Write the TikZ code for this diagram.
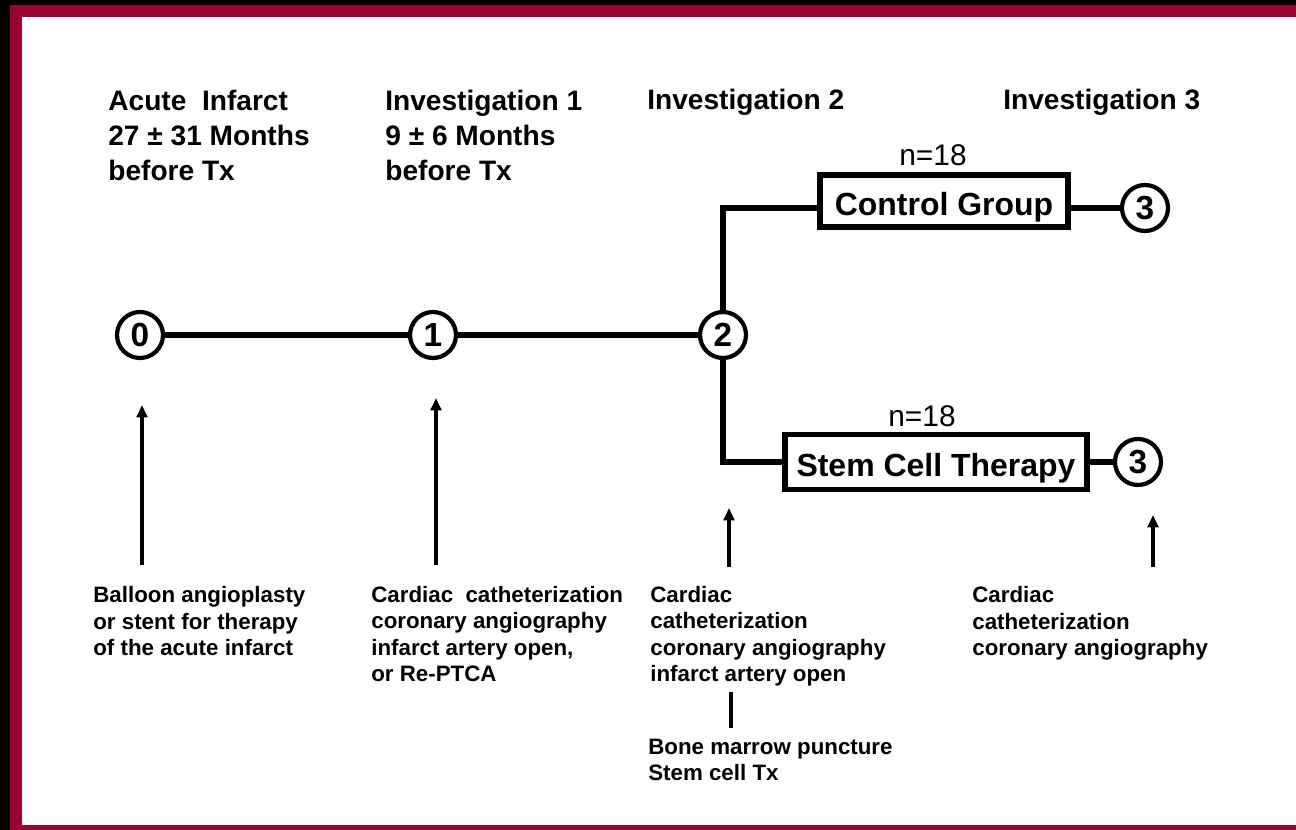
\documentclass[tikz,border=0pt]{standalone}
\usepackage{fontspec}
\setmainfont{Liberation Sans}
\usetikzlibrary{arrows.meta}

\definecolor{framered}{RGB}{153,0,51}

\begin{document}
\begin{tikzpicture}[x=0.02cm,y=-0.02cm]
    \tikzstyle{stage}=[circle,draw,line width=2.4pt,minimum size=0.92cm,inner sep=0pt,font=\fontsize{19}{22}\selectfont\bfseries]
    \tikzstyle{group}=[rectangle,draw,line width=3.4pt,inner sep=0pt,text height=16.5pt,text depth=0pt,font=\fontsize{18.2}{22}\selectfont\bfseries]
    \tikzstyle{head}=[anchor=base west,align=left,inner sep=0pt,font=\fontsize{16}{20.2}\selectfont\bfseries]
    \tikzstyle{note}=[anchor=base west,align=left,inner sep=0pt,font=\fontsize{12.7}{15.1}\selectfont\bfseries]
    \tikzstyle{count}=[anchor=base,inner sep=0pt,font=\fontsize{17}{20}\selectfont]
    \tikzstyle{link}=[line width=3pt]
    \tikzstyle{pointer}=[line width=2pt,-{Triangle[length=7pt,width=6pt]}]
    \useasboundingbox (0,0) rectangle (1296,830);
    % frame
    \fill[black] (0,0) rectangle (1296,830);
    \fill[framered] (10,5) rectangle (1296,830);
    \fill[white] (22,17) rectangle (1296,825);

    % headings (anchored at the last baseline)
    \node[head] (hd0) at (108,181) {Acute\ \ Infarct\\27 ± 31 Months\\before Tx};
    \node[head] (hd1) at (385,181) {Investigation 1\\9 ± 6 Months\\before Tx};
    \node[head] (hd2) at (647,110) {Investigation 2};
    \node[head] (hd3) at (1003,110) {Investigation 3};

    % time line
    \node[stage] (s0) at (140,335) {0};
    \node[stage] (s1) at (433,335) {1};
    \node[stage] (s2) at (723,335) {2};
    \node[stage] (s3a) at (1145,208) {3};
    \node[stage] (s3b) at (1138,462) {3};
    \node[group,minimum width=4.98cm,minimum height=1.04cm] (ctl) at (944,201) {Control Group};
    \node[group,minimum width=6.04cm,minimum height=1.1cm] (stem) at (936,462) {Stem Cell Therapy};
    \node[count] (nctl) at (933,166) {n=18};
    \node[count] (nstem) at (922,427) {n=18};

    \draw[link] (s0) -- (s1) -- (s2);
    \draw[link] (s2) |- (ctl.west |- s3a);
    \draw[link] (ctl.east |- s3a) -- (s3a);
    \draw[link] (s2) |- (stem.west);
    \draw[link] (stem.east) -- (s3b);

    % arrows
    \coordinate (a0f) at (142,565);
    \coordinate (a0t) at (142,405);
    \coordinate (a1f) at (436,565);
    \coordinate (a1t) at (436,398);
    \coordinate (a2f) at (729,567);
    \coordinate (a2t) at (729,508);
    \coordinate (a3f) at (1153,567);
    \coordinate (a3t) at (1153,515);
    \coordinate (tkt) at (731,692);
    \coordinate (tkb) at (731,728);
    \draw[pointer] (a0f) -- (a0t);
    \draw[pointer] (a1f) -- (a1t);
    \draw[pointer] (a2f) -- (a2t);
    \draw[pointer] (a3f) -- (a3t);
    \draw[line width=2pt] (tkt) -- (tkb);

    % notes (anchored at the last baseline)
    \node[note] (nt0) at (93,656) {Balloon angioplasty\\or stent for therapy\\of the acute infarct};
    \node[note] (nt1) at (371,682) {Cardiac\ \ catheterization\\coronary angiography\\infarct artery open,\\or Re-PTCA};
    \node[note] (nt2) at (650,682) {Cardiac\\catheterization\\coronary angiography\\infarct artery open};
    \node[note] (nt2b) at (648,781) {Bone marrow puncture\\Stem cell Tx};
    \node[note] (nt3) at (972,656) {Cardiac\\catheterization\\coronary angiography};
\end{tikzpicture}
\end{document}
